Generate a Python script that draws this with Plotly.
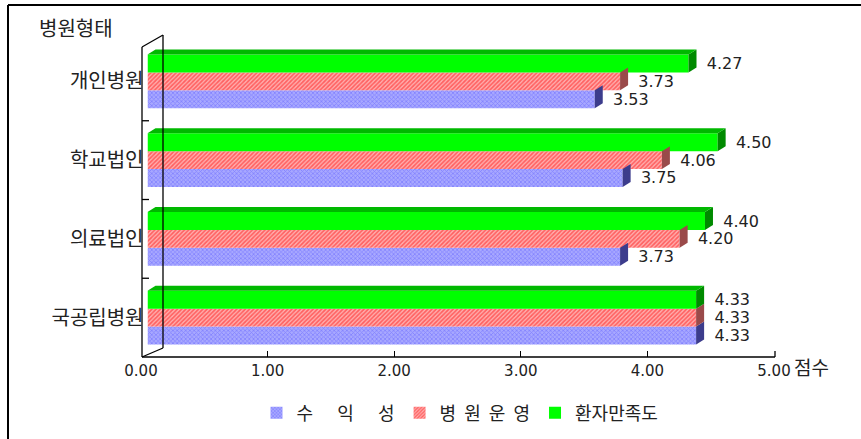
import plotly.graph_objects as go

# ---- data (top-to-bottom order as shown) ----
categories = ["개인병원", "학교법인", "의료법인", "국공립병원"]
series_names = ["수" + "\u00a0" * 6 + "익" + "\u00a0" * 6 + "성",
                "병\u00a0\u00a0원\u00a0\u00a0운\u00a0\u00a0영", "환자만족도"]
profit = [3.53, 3.75, 3.73, 4.33]
operation = [3.73, 4.06, 4.20, 4.33]
satisfaction = [4.27, 4.50, 4.40, 4.33]
x_ticks = [0, 1, 2, 3, 4, 5]
x_ticklabels = ["0.00", "1.00", "2.00", "3.00", "4.00", "5.00"]

# plotting order: bottom-to-top
cats = categories[::-1]
series = [profit[::-1], operation[::-1], satisfaction[::-1]]

KR = "Noto Sans CJK KR, sans-serif"
NUM = "DejaVu Sans, sans-serif"
TXT = "#222222"

fills = [
    dict(color="#8a8aff", pattern=dict(shape="x", size=3, solidity=0.45, fgcolor="#5a5aff", bgcolor="#a8a8ff")),
    dict(color="#ff8080", pattern=dict(shape="/", size=3, solidity=0.55, fgcolor="#ff1010", bgcolor="#ffb0b0")),
    dict(color="#00ff00"),
]
side_colors = ["#3c3c8c", "#9a4a4a", "#008a00"]
top_color = "#00b800"

fig = go.Figure()
for name, vals, f in zip(series_names, series, fills):
    fig.add_trace(go.Bar(
        y=cats, x=vals, name=name, orientation="h",
        marker=dict(line=dict(width=0), **f),
        texttemplate="   %{x:.2f}", textposition="outside",
        textfont=dict(family=NUM, size=16, color=TXT),
        cliponaxis=False, constraintext="none",
    ))
# empty trace carrying the front-plane value axis (tick labels)
fig.add_trace(go.Scatter(x=[], y=[], xaxis="x2", yaxis="y", showlegend=False, hoverinfo="skip"))

# geometry
L, R, T, B = 141, 80, 42, 82
W, H = 861 - L - R, 439 - T - B
bar_x0, front_x5 = 147.5, 774
bar_dom0 = (bar_x0 - L) / W
front_dom1 = (front_x5 - L) / W
bargap = 0.32
bw = (1 - bargap) / 3
px_per_unit = (W - (bar_x0 - L)) / 5.0
depth_x = 8 / px_per_unit
depth_y = 5
bar_px = bw * H / len(cats)
shapes = []
for k, vals in enumerate(series):
    off = -(1 - bargap) / 2 + (k + 0.5) * bw
    for i, v in enumerate(vals):
        h2 = bar_px / 2
        shapes.append(dict(
            type="path", xref="x", yref="y", xsizemode="scaled", ysizemode="pixel",
            yanchor=i + off,
            path=f"M {v},{-h2} L {v},{h2} L {v + depth_x},{h2 + depth_y} L {v + depth_x},{-h2 + depth_y} Z",
            fillcolor=side_colors[k], line=dict(width=0), layer="above"))
        if k == 2:
            shapes.append(dict(
                type="path", xref="x", yref="y", xsizemode="scaled", ysizemode="pixel",
                yanchor=i + off,
                path=f"M 0,{h2} L {v},{h2} L {v + depth_x},{h2 + depth_y} L {depth_x},{h2 + depth_y} Z",
                fillcolor=top_color, line=dict(width=0), layer="above"))

def xp(px):
    return (px - L) / W

def yp(py):
    return (439 - B - py) / H

line = dict(color="#000000", width=1.3)
frame = [
    ((142, 47), (142, 357)),
    ((142, 47), (163, 35)),
    ((163, 35), (163, 348)),
    ((142, 357), (163, 348)),
    ((142, 357), (775, 357)),
    ((775, 357), (775, 351)),
]
for (x0, y0), (x1, y1) in frame:
    shapes.append(dict(type="line", xref="paper", yref="paper",
                       x0=xp(x0), y0=yp(y0), x1=xp(x1), y1=yp(y1), line=line))
for b in range(1, len(cats)):
    shapes.append(dict(type="line", xref="paper", yref="y",
                       x0=xp(142), x1=xp(149), y0=b - 0.5, y1=b - 0.5, line=line))
shapes.append(dict(type="line", xref="paper", yref="paper",
                   x0=xp(8), x1=xp(861), y0=yp(5), y1=yp(5), line=dict(color="#000", width=2)))
shapes.append(dict(type="line", xref="paper", yref="paper",
                   x0=xp(8), x1=xp(8), y0=yp(5), y1=yp(439), line=dict(color="#000", width=2)))

fig.update_layout(
    width=861, height=439,
    margin=dict(l=L, r=R, t=T, b=B, autoexpand=False),
    paper_bgcolor="white", plot_bgcolor="rgba(0,0,0,0)",
    barmode="group", bargap=bargap, bargroupgap=0,
    showlegend=True,
    legend=dict(orientation="h", x=xp(460), xanchor="center", y=yp(413), yanchor="middle",
                font=dict(family=KR, size=18, color=TXT), traceorder="normal",
                itemwidth=30, tracegroupgap=0),
    xaxis=dict(domain=[bar_dom0, 1], range=[0, 5], showgrid=False, zeroline=False,
               showline=False, showticklabels=False, ticks=""),
    xaxis2=dict(domain=[0, front_dom1], range=[0, 5], anchor="y",
                side="bottom", tickvals=x_ticks, ticktext=x_ticklabels,
                showgrid=False, zeroline=False, showline=False,
                ticks="inside", ticklen=6, tickcolor="#000", tickwidth=1.3,
                tickfont=dict(family=NUM, size=15, color=TXT), ticklabelstandoff=3),
    yaxis=dict(categoryorder="array", categoryarray=cats,
               showgrid=False, zeroline=False, showline=False, ticks="",
               tickfont=dict(family=KR, size=20, color=TXT), ticklabelstandoff=3),
    shapes=shapes,
    annotations=[
        dict(text="병원형태", xref="paper", yref="paper", x=xp(76), y=yp(28),
             xanchor="center", yanchor="middle", showarrow=False,
             font=dict(family=KR, size=20, color=TXT)),
        dict(text="점수", xref="paper", yref="paper", x=xp(811), y=yp(367),
             xanchor="center", yanchor="middle", showarrow=False,
             font=dict(family=KR, size=19, color=TXT)),
    ],
)

fig.write_html("out.html")
